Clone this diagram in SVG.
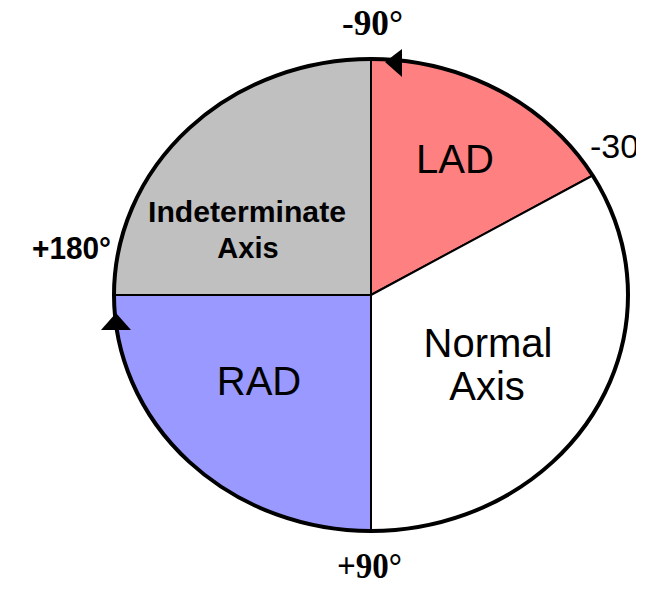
<svg xmlns="http://www.w3.org/2000/svg" width="660" height="589" viewBox="0 0 660 589">
<style>
.sec{stroke:#000;stroke-width:2}
.lbl{font-family:"Liberation Sans",Arial,sans-serif;font-size:40px;fill:#000;text-anchor:middle}
.deg{font-family:"Liberation Serif","Times New Roman",serif;font-size:35px;font-weight:bold;fill:#000}
</style>
<defs>
<clipPath id="edge"><rect x="0" y="0" width="636" height="589"/></clipPath>
</defs>
<rect width="660" height="589" fill="#fff"/>
<g id="lad">
<path class="sec" d="M371,295 L371,59 A257,236 0 0 1 592.6,175.5 Z" fill="#FF8080"/>
<text class="lbl" x="455" y="173">LAD</text>
</g>
<g id="normal">
<path class="sec" d="M371,295 L592.6,175.5 A257,236 0 0 1 371,531 Z" fill="#FFFFFF"/>
<text class="lbl" x="488" y="357">Normal</text>
<text class="lbl" x="487" y="400">Axis</text>
</g>
<g id="rad">
<path class="sec" d="M371,295 L371,531 A257,236 0 0 1 114,295 Z" fill="#9999FF"/>
<text class="lbl" x="259" y="395">RAD</text>
</g>
<g id="indeterminate">
<path class="sec" d="M371,295 L114,295 A257,236 0 0 1 371,59 Z" fill="#C0C0C0"/>
<text class="lbl" x="247" y="222" style="font-weight:bold;font-size:29px" textLength="198" lengthAdjust="spacingAndGlyphs">Indeterminate</text>
<text class="lbl" x="248" y="258" style="font-weight:bold;font-size:29px">Axis</text>
</g>
<g id="connectors">
<ellipse cx="371" cy="295" rx="257" ry="236" fill="none" stroke="#000" stroke-width="4"/>
<polygon points="385,62 402,49 402,77" fill="#000"/>
<polygon points="116,313 101,330 131,330" fill="#000"/>
</g>
<g id="labels">
<text class="deg" x="342" y="35" textLength="61" lengthAdjust="spacingAndGlyphs">-90°</text>
<text x="590" y="158" clip-path="url(#edge)" style="font-family:'Liberation Sans',Arial,sans-serif;font-size:34px">-30</text>
<text class="deg" x="337" y="578" textLength="65" lengthAdjust="spacingAndGlyphs">+90°</text>
<text x="32" y="259" style="font-family:'Liberation Sans',Arial,sans-serif;font-weight:bold;font-size:32px" textLength="79" lengthAdjust="spacingAndGlyphs">+180°</text>
</g>
</svg>
